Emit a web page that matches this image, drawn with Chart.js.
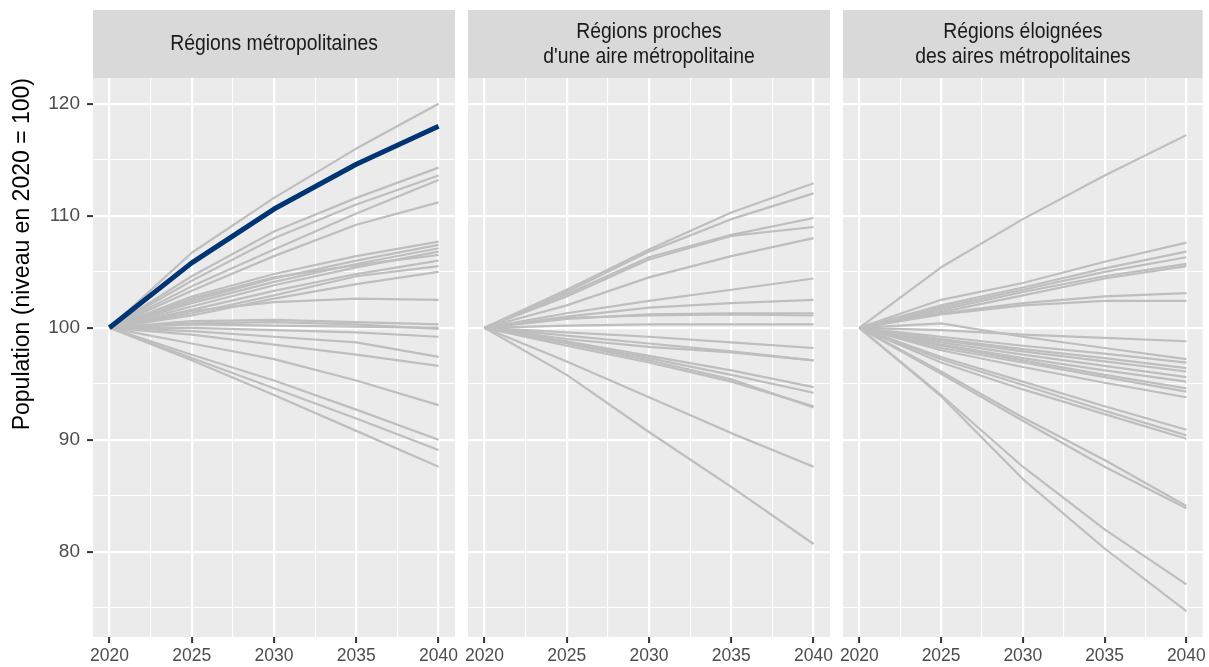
<!DOCTYPE html>
<html lang="fr">
<head>
<meta charset="utf-8">
<title>Population par type de région</title>
<script src="https://cdn.jsdelivr.net/npm/chart.js@4.4.1/dist/chart.umd.min.js"></script>
<style>
  html, body { margin: 0; padding: 0; background: #fff; }
  #wrap { position: relative; width: 1209px; height: 667px; }
  #wrap canvas { position: absolute; left: 0; top: 0; }
</style>
</head>
<body>
<div id="wrap">
  <canvas id="p1" width="1209" height="667"></canvas>
  <canvas id="p2" width="1209" height="667"></canvas>
  <canvas id="p3" width="1209" height="667"></canvas>
</div>
<script>
// années projetées
const years = [2020, 2025, 2030, 2035, 2040];

// grilles (majeures + mineures)
const xGrid = [2020, 2022.5, 2025, 2027.5, 2030, 2032.5, 2035, 2037.5, 2040];
const yGrid = [75, 80, 85, 90, 95, 100, 105, 110, 115, 120];

const panelTitles = [
  ["Régions métropolitaines"],
  ["Régions proches", "d'une aire métropolitaine"],
  ["Régions éloignées", "des aires métropolitaines"]
];

// région mise en évidence
const metroHighlight = [100, 105.8, 110.6, 114.6, 118.0];

const metroSeries = [
  [100, 106.7, 111.6, 116.0, 120.0],
  [100, 104.6, 108.6, 111.6, 114.3],
  [100, 104.2, 108.0, 111.0, 113.6],
  [100, 103.7, 107.0, 110.2, 113.2],
  [100, 103.3, 106.4, 109.2, 111.2],
  [100, 102.8, 104.8, 106.4, 107.7],
  [100, 102.4, 104.4, 106.0, 107.4],
  [100, 102.2, 104.1, 105.7, 107.1],
  [100, 101.9, 103.8, 105.4, 106.8],
  [100, 102.6, 104.5, 105.6, 106.5],
  [100, 101.6, 103.3, 104.8, 106.0],
  [100, 101.3, 102.9, 104.6, 105.5],
  [100, 101.1, 102.6, 103.9, 105.0],
  [100, 101.5, 102.3, 102.6, 102.5],
  [100, 100.6, 100.7, 100.5, 100.3],
  [100, 100.3, 100.2, 100.1, 100.0],
  [100, 100.4, 100.5, 100.3, 99.9],
  [100, 100.0, 99.8, 99.6, 99.2],
  [100, 99.7, 99.2, 98.7, 97.4],
  [100, 99.4, 98.5, 97.6, 96.6],
  [100, 98.6, 97.2, 95.3, 93.1],
  [100, 97.6, 95.3, 92.7, 90.0],
  [100, 97.3, 94.6, 91.9, 89.1],
  [100, 97.1, 94.0, 90.8, 87.6]
];

const procheSeries = [
  [100, 103.4, 107.0, 110.3, 112.9],
  [100, 103.2, 106.8, 109.7, 112.0],
  [100, 103.0, 106.3, 108.3, 109.8],
  [100, 102.8, 106.1, 108.2, 109.0],
  [100, 102.0, 104.5, 106.4, 108.0],
  [100, 101.3, 102.4, 103.4, 104.4],
  [100, 101.0, 101.8, 102.2, 102.5],
  [100, 100.8, 101.2, 101.3, 101.3],
  [100, 100.9, 101.1, 101.2, 101.1],
  [100, 100.2, 100.3, 100.3, 100.3],
  [100, 99.6, 99.2, 98.7, 98.2],
  [100, 99.3, 98.6, 97.9, 97.1],
  [100, 99.0, 98.3, 97.8, 97.1],
  [100, 98.8, 97.5, 96.2, 94.7],
  [100, 98.7, 97.3, 95.8, 94.2],
  [100, 98.4, 96.9, 95.2, 93.0],
  [100, 98.6, 97.1, 95.4, 92.9],
  [100, 97.0, 93.8, 90.6, 87.6],
  [100, 95.8, 90.7, 85.8, 80.7]
];

const eloigneSeries = [
  [100, 105.4, 109.7, 113.6, 117.2],
  [100, 102.5, 104.0, 105.9, 107.6],
  [100, 102.0, 103.6, 105.3, 106.8],
  [100, 101.8, 103.4, 105.0, 106.3],
  [100, 101.6, 103.2, 104.6, 105.7],
  [100, 101.4, 102.9, 104.4, 105.5],
  [100, 101.3, 102.2, 102.8, 103.1],
  [100, 101.2, 102.0, 102.4, 102.4],
  [100, 99.8, 99.4, 99.1, 98.8],
  [100, 100.4, 99.2, 98.2, 97.2],
  [100, 99.2, 98.4, 97.7, 96.9],
  [100, 99.0, 98.1, 97.3, 96.4],
  [100, 98.9, 97.9, 97.0, 96.1],
  [100, 98.7, 97.6, 96.6, 95.6],
  [100, 98.5, 97.3, 96.2, 95.2],
  [100, 98.4, 97.1, 95.8, 94.6],
  [100, 98.2, 96.9, 95.6, 94.3],
  [100, 98.0, 96.5, 95.1, 93.8],
  [100, 97.4, 95.2, 93.0, 90.9],
  [100, 97.2, 94.9, 92.6, 90.4],
  [100, 96.9, 94.5, 92.3, 90.1],
  [100, 96.1, 92.0, 88.2, 84.1],
  [100, 95.9, 91.7, 87.6, 83.9],
  [100, 94.0, 87.6, 82.0, 77.1],
  [100, 93.9, 86.5, 80.3, 74.7]
];

const GRAY = "#BEBEBE";
const BLUE = "#003473";
const FONT = '"Liberation Sans", Arial, sans-serif';

// fond gris du panneau + bandeau de titre (facette)
const panelPlugin = {
  id: "panel",
  beforeDraw(chart, args, opts) {
    const { ctx, chartArea: a } = chart;
    ctx.save();
    ctx.fillStyle = "#EBEBEB";
    ctx.fillRect(a.left, a.top, a.right - a.left, a.bottom - a.top);
    ctx.fillStyle = "#D9D9D9";
    ctx.fillRect(a.left, 10, a.right - a.left, a.top - 10);
    ctx.fillStyle = "#1A1A1A";
    ctx.font = "22px " + FONT;
    ctx.textAlign = "center";
    ctx.textBaseline = "middle";
    const lines = opts.lines || [];
    const mid = (10 + a.top) / 2;
    const cx = (a.left + a.right) / 2;
    // texte légèrement condensé comme dans l'original
    ctx.translate(cx, 0);
    ctx.scale(0.88, 1);
    lines.forEach((t, i) => {
      ctx.fillText(t, 0, mid + (i - (lines.length - 1) / 2) * 25);
    });
    ctx.restore();
  }
};

function toPoints(values) {
  return years.map((yr, i) => ({ x: yr, y: values[i] }));
}

function makePanel(id, series, highlight, lines, left, right, showY) {
  const datasets = series.map((s) => ({
    data: toPoints(s),
    borderColor: GRAY,
    borderWidth: 2.2,
    order: 1
  }));
  if (highlight) {
    datasets.unshift({ data: toPoints(highlight), borderColor: BLUE, borderWidth: 5, order: 0 });
  }

  new Chart(document.getElementById(id), {
    type: "line",
    data: { datasets: datasets },
    plugins: [panelPlugin],
    options: {
      responsive: false,
      animation: false,
      events: [],
      layout: { padding: { left: left, right: right, top: 78, bottom: 0 } },
      elements: { point: { radius: 0 }, line: { tension: 0, borderJoinStyle: "round" } },
      plugins: { legend: { display: false }, tooltip: { enabled: false }, panel: { lines: lines } },
      scales: {
        x: {
          type: "linear",
          min: 2019,
          max: 2041,
          afterBuildTicks: (s) => { s.ticks = xGrid.map((v) => ({ value: v })); },
          afterFit: (s) => { s.height = 30; },
          border: { display: false },
          grid: {
            color: "#FFFFFF",
            lineWidth: (c) => (c.tick && c.tick.value % 5 === 0 ? 2.2 : 1.1),
            tickColor: (c) => (c.tick && c.tick.value % 5 === 0 ? "#333333" : "rgba(0,0,0,0)"),
            tickWidth: 2,
            tickLength: 6
          },
          ticks: {
            autoSkip: false,
            maxRotation: 0,
            padding: 3,
            color: "#4D4D4D",
            font: { family: FONT, size: 17.5 },
            callback: (v) => (v % 5 === 0 ? String(v) : "")
          }
        },
        y: {
          min: 72.4,
          max: 122.3,
          afterBuildTicks: (s) => { s.ticks = yGrid.map((v) => ({ value: v })); },
          afterFit: (s) => { s.width = showY ? 93 : 0; },
          border: { display: false },
          grid: {
            color: "#FFFFFF",
            lineWidth: (c) => (c.tick && c.tick.value % 10 === 0 ? 2.2 : 1.1),
            tickColor: (c) => (c.tick && c.tick.value % 10 === 0 ? "#333333" : "rgba(0,0,0,0)"),
            tickWidth: 2,
            tickLength: showY ? 6 : 0,
            drawTicks: showY
          },
          ticks: {
            display: showY,
            padding: 7,
            color: "#4D4D4D",
            font: { family: FONT, size: 19 },
            callback: (v) => (v % 10 === 0 ? String(v) : "")
          },
          title: {
            display: showY,
            text: "Population (niveau en 2020 = 100)",
            align: "end",
            color: "#000000",
            font: { family: FONT, size: 23 },
            padding: { top: 9, bottom: 0 }
          }
        }
      }
    }
  });
}

makePanel("p1", metroSeries, metroHighlight, panelTitles[0], 0, 1209 - 455, true);
makePanel("p2", procheSeries, null, panelTitles[1], 468, 1209 - 830, false);
makePanel("p3", eloigneSeries, null, panelTitles[2], 843, 1209 - 1205, false);
</script>
</body>
</html>
